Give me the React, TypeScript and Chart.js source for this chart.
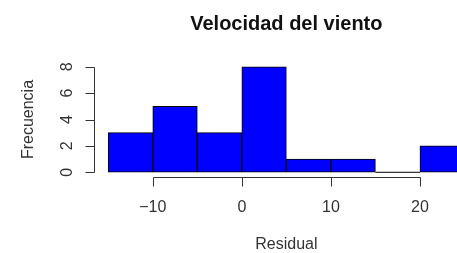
import React, { useEffect, useRef } from "react";
import { Chart, registerables } from "chart.js";

Chart.register(...registerables);

// ---- data ----
const binStarts = [-15, -10, -5, 0, 5, 10, 15, 20];
const counts = [3, 5, 3, 8, 1, 1, 0, 2];
const binWidth = 5;
const xTicks = [-10, 0, 10, 20];
const yTicks = [0, 2, 4, 6, 8];
const titleText = "Velocidad del viento";
const xLabel = "Residual";
const yLabel = "Frecuencia";

const FONT = '"Liberation Sans", Arial, Helvetica, sans-serif';
const fmt = (v: number) => (v < 0 ? "\u2212" + Math.abs(v) : String(v));

const rAxes = {
  id: "rAxes",
  afterDraw(chart: any) {
    const { ctx, chartArea: ca, scales } = chart;
    const x = scales.x;
    const y = scales.y;
    ctx.save();
    ctx.strokeStyle = "#333";
    ctx.fillStyle = "#333";
    ctx.lineWidth = 1;

    // x axis
    const xb = Math.round(ca.bottom) + 0.5;
    ctx.beginPath();
    ctx.moveTo(Math.round(x.getPixelForValue(xTicks[0])) + 0.5, xb);
    ctx.lineTo(Math.round(x.getPixelForValue(xTicks[xTicks.length - 1])) + 0.5, xb);
    xTicks.forEach((v) => {
      const px = Math.round(x.getPixelForValue(v)) + 0.5;
      ctx.moveTo(px, xb);
      ctx.lineTo(px, xb + 9);
    });
    // y axis
    const yl = Math.round(ca.left) + 0.5;
    ctx.moveTo(yl, Math.round(y.getPixelForValue(yTicks[0])) + 0.5);
    ctx.lineTo(yl, Math.round(y.getPixelForValue(yTicks[yTicks.length - 1])) + 0.5);
    yTicks.forEach((v) => {
      const py = Math.round(y.getPixelForValue(v)) + 0.5;
      ctx.moveTo(yl, py);
      ctx.lineTo(yl - 9, py);
    });
    ctx.stroke();

    ctx.font = "16px " + FONT;
    ctx.textAlign = "center";
    ctx.textBaseline = "alphabetic";
    xTicks.forEach((v) => {
      ctx.fillText(fmt(v), x.getPixelForValue(v), ca.bottom + 35.5);
    });
    yTicks.forEach((v) => {
      ctx.save();
      ctx.translate(ca.left - 22.5, y.getPixelForValue(v));
      ctx.rotate(-Math.PI / 2);
      ctx.fillText(fmt(v), 0, 0);
      ctx.restore();
    });

    // axis titles
    const cx = (ca.left + ca.right) / 2;
    const cy = (ca.top + ca.bottom) / 2;
    ctx.fillText(xLabel, cx, ca.bottom + 72.5);
    ctx.save();
    ctx.translate(ca.left - 61, cy);
    ctx.rotate(-Math.PI / 2);
    ctx.fillText(yLabel, 0, 0);
    ctx.restore();

    // main title
    ctx.fillStyle = "#111";
    ctx.font = "bold 20px " + FONT;
    ctx.fillText(titleText, cx, ca.top - 33);
    ctx.restore();
  },
};

export default function App() {
  const ref = useRef<HTMLCanvasElement | null>(null);

  useEffect(() => {
    if (!ref.current) return;
    const xmin = binStarts[0];
    const xmax = binStarts[binStarts.length - 1] + binWidth;
    const xpad = 0.04 * (xmax - xmin);
    const ymax = Math.max(...yTicks, ...counts);
    const ypad = 0.04 * ymax;

    const barData = binStarts.map((s, i) => ({ x: s + binWidth / 2, y: counts[i] }));
    const emptyData: any[] = [];
    binStarts.forEach((s, i) => {
      if (counts[i] === 0) {
        emptyData.push({ x: s, y: 0 }, { x: s + binWidth, y: 0 }, { x: s + binWidth, y: null });
      }
    });

    const chart = new Chart(ref.current, {
      type: "bar",
      data: {
        datasets: [
          {
            type: "bar",
            data: barData as any,
            backgroundColor: "#0000FF",
            borderColor: "#000000",
            borderWidth: 1,
            borderSkipped: false,
            barPercentage: 1,
            categoryPercentage: 1,
          } as any,
          {
            type: "line",
            data: emptyData,
            borderColor: "#000000",
            borderWidth: 1,
            pointRadius: 0,
            spanGaps: false,
          } as any,
        ],
      },
      options: {
        animation: false,
        responsive: false,
        events: [],
        layout: { padding: { left: 94, right: 21.3, top: 62.5, bottom: 76.5 } },
        plugins: { legend: { display: false }, tooltip: { enabled: false }, title: { display: false } },
        scales: {
          x: {
            type: "linear",
            display: false,
            offset: false,
            min: xmin - xpad,
            max: xmax + xpad,
            afterBuildTicks: (scale: any) => {
              scale.ticks = xTicks.map((v) => ({ value: v }));
            },
          },
          y: {
            type: "linear",
            display: false,
            min: -ypad,
            max: ymax + ypad,
            afterBuildTicks: (scale: any) => {
              scale.ticks = yTicks.map((v) => ({ value: v }));
            },
          },
        },
      } as any,
      plugins: [rAxes],
    });
    return () => chart.destroy();
  }, []);

  return (
    <div
      style={{
        position: "fixed",
        left: 0,
        top: 0,
        width: 457,
        height: 253,
        overflow: "hidden",
        background: "#fff",
      }}
    >
      <canvas ref={ref} width={500} height={253} style={{ display: "block" }} />
    </div>
  );
}
